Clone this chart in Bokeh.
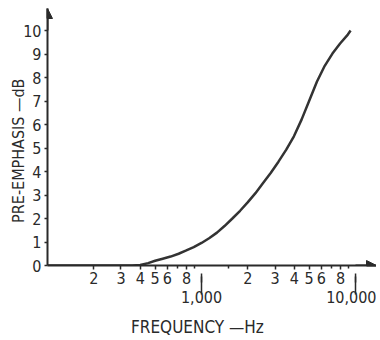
from bokeh.plotting import figure
from bokeh.models import LogAxis, FixedTicker, Arrow, NormalHead, Range1d
from bokeh.embed import file_html
from bokeh.resources import INLINE

# Data
freq_hz = [100, 200, 300, 355, 400, 450, 500, 560, 630, 710, 790, 890, 1000,
           1120, 1260, 1410, 1580, 1780, 2000, 2240, 2510, 2820, 3160, 3550,
           3980, 4470, 5010, 5620, 6310, 7080, 7940, 8910, 9290]
gain_db = [0, 0, 0, 0, 0.02, 0.10, 0.20, 0.29, 0.38, 0.50, 0.63, 0.78, 0.96,
           1.16, 1.40, 1.68, 1.99, 2.33, 2.70, 3.08, 3.51, 3.95, 4.42, 4.93,
           5.50, 6.22, 7.02, 7.83, 8.50, 9.02, 9.45, 9.83, 10.0]

x_major = [200, 300, 400, 500, 600, 800, 2000, 3000, 4000, 5000, 6000, 8000]
x_major_labels = ["2", "3", "4", "5", "6", "8", "2", "3", "4", "5", "6", "8"]
x_minor = [700, 900, 1500, 7000, 9000]
decade_marks = [1000, 10000]
decade_labels = ["1,000", "10,000"]
y_ticks = list(range(0, 11))

x_lo, x_hi = 100, 13680
y_lo, y_hi = 0, 10.94

FONT = "DejaVu Sans Condensed, Roboto, sans-serif"
INK = "#2a2a2a"

p = figure(frame_width=329, frame_height=257, x_axis_type="log",
           x_range=Range1d(x_lo, x_hi), y_range=Range1d(y_lo, y_hi),
           output_backend="svg", toolbar_location=None,
           min_border_left=47, min_border_right=0, min_border_top=8,
           min_border_bottom=75)
p.grid.visible = False
p.outline_line_color = None

# main x axis
xa = p.xaxis[0]
xa.ticker = FixedTicker(ticks=x_major, minor_ticks=x_minor)
xa.major_label_overrides = {t: l for t, l in zip(x_major, x_major_labels)}
xa.axis_line_width = 2
xa.axis_line_color = INK
xa.major_tick_in = 0
xa.major_tick_out = 4
xa.minor_tick_in = 0
xa.minor_tick_out = 3
xa.major_tick_line_color = INK
xa.minor_tick_line_color = INK
xa.major_tick_line_width = 1.5
xa.minor_tick_line_width = 1.5
xa.major_label_standoff = 2
xa.major_label_text_font = FONT
xa.major_label_text_font_size = "16px"
xa.major_label_text_color = INK

# decade labels (with pointer shafts as ticks) + axis title
ax2 = LogAxis(ticker=FixedTicker(ticks=decade_marks),
              major_label_overrides={t: l for t, l in zip(decade_marks, decade_labels)},
              axis_line_color=None, minor_tick_line_color=None,
              major_tick_line_color=INK, major_tick_line_width=1.5,
              major_tick_in=10, major_tick_out=8,
              major_label_standoff=-4,
              major_label_text_font=FONT, major_label_text_font_size="16px",
              major_label_text_color=INK,
              axis_label="FREQUENCY \u2014Hz" + "\u00a0" * 6,
              axis_label_text_font=FONT, axis_label_text_font_size="17px",
              axis_label_text_font_style="normal", axis_label_text_color=INK,
              axis_label_standoff=11)
p.add_layout(ax2, "below")

# y axis
ya = p.yaxis[0]
ya.ticker = FixedTicker(ticks=y_ticks)
ya.axis_line_width = 2
ya.axis_line_color = INK
ya.major_tick_in = 0
ya.major_tick_out = 3
ya.minor_tick_line_color = None
ya.major_tick_line_color = INK
ya.major_tick_line_width = 1.5
ya.major_label_standoff = 3
ya.major_label_text_font = FONT
ya.major_label_text_font_size = "16px"
ya.major_label_text_color = INK
ya.axis_label = "PRE-EMPHASIS \u2014dB" + "\u00a0" * 6
ya.axis_label_text_font = FONT
ya.axis_label_text_font_size = "16px"
ya.axis_label_text_font_style = "normal"
ya.axis_label_text_color = INK
ya.axis_label_standoff = -8

# curve
p.line(freq_hz, gain_db, line_width=2.5, line_color="#333333")

# axis arrows
p.add_layout(Arrow(end=NormalHead(size=10, fill_color=INK, line_color=INK, line_width=1),
                   x_start=x_lo, y_start=y_ticks[-1], x_end=x_lo, y_end=y_hi,
                   line_width=2, line_color=INK))
p.add_layout(Arrow(end=NormalHead(size=10, fill_color=INK, line_color=INK, line_width=1),
                   x_start=decade_marks[-1], y_start=y_lo, x_end=x_hi, y_end=y_lo,
                   line_width=2, line_color=INK))
# decade pointer arrow heads
for d in decade_marks:
    p.add_layout(Arrow(end=NormalHead(size=9, fill_color=INK, line_color=INK, line_width=1),
                       x_start=d, y_start=y_lo - 1.06, x_end=d, y_end=y_lo - 0.34,
                       line_width=1.5, line_color=INK))

open("out.html", "w").write(file_html(p, INLINE))
